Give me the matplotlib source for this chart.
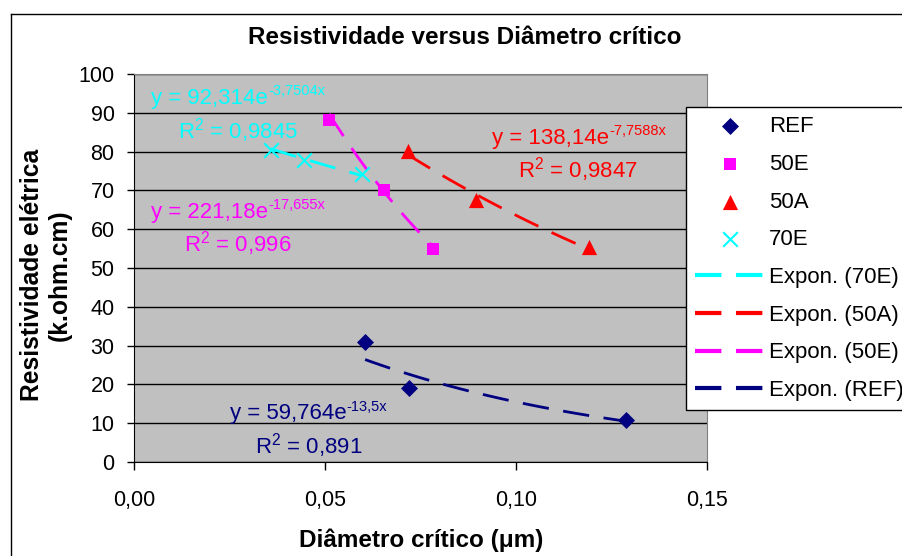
import numpy as np
import matplotlib
matplotlib.use("Agg")
import matplotlib.pyplot as plt
from matplotlib.lines import Line2D

plt.rcParams['font.family'] = ['Liberation Sans', 'DejaVu Sans']
plt.rcParams['mathtext.fontset'] = 'custom'
plt.rcParams['mathtext.rm'] = 'Liberation Sans'
plt.rcParams['mathtext.it'] = 'Liberation Sans'
plt.rcParams['lines.scale_dashes'] = False

# critical diameter (um) and electrical resistivity (k.ohm.cm) per mix
ref_x = [0.0605, 0.0721, 0.1287]
ref_y = [31.0, 19.0, 10.8]
e50_x = [0.0511, 0.0655, 0.0782]
e50_y = [88.2, 70.2, 54.8]
a50_x = [0.0716, 0.0895, 0.1192]
a50_y = [80.2, 67.6, 55.5]
e70_x = [0.0358, 0.0445, 0.0597]
e70_y = [80.5, 77.9, 74.3]

# exponential trendline coefficients y = a * exp(b * x), with R^2
fit_ref = (59.764, -13.5, 0.891)
fit_50e = (221.18, -17.655, 0.996)
fit_50a = (138.14, -7.7588, 0.9847)
fit_70e = (92.314, -3.7504, 0.9845)

fit_labels = {
    'ref': ('59,764', '-13,5x', '0,891'),
    '50e': ('221,18', '-17,655x', '0,996'),
    '50a': ('138,14', '-7,7588x', '0,9847'),
    '70e': ('92,314', '-3,7504x', '0,9845'),
}

NAVY = '#000080'
MAGENTA = '#FF00FF'
RED = '#FF0000'
CYAN = '#00FFFF'

fig = plt.figure(figsize=(9.02, 5.56), dpi=100)
ax = fig.add_axes([134 / 902, 1 - 462 / 556, 573 / 902, 388 / 556])
ax.set_facecolor('#C0C0C0')

DASH = (0, (19, 10.5))


def trend(xs, fit, color):
    a, b, _ = fit
    xx = np.linspace(min(xs), max(xs), 100)
    return ax.plot(xx, a * np.exp(b * xx), color=color, lw=2, ls=DASH)[0]


t70 = trend(e70_x, fit_70e, CYAN)
t50a = trend(a50_x, fit_50a, RED)
t50e = trend(e50_x, fit_50e, MAGENTA)
tref = trend(ref_x, fit_ref, NAVY)

s_ref = ax.scatter(ref_x, ref_y, marker='D', s=75, color=NAVY, zorder=5, linewidths=0)
s_50e = ax.scatter(e50_x, e50_y, marker='s', s=85, color=MAGENTA, zorder=5, linewidths=0)
s_50a = ax.scatter(a50_x, a50_y, marker='^', s=120, color=RED, zorder=5, linewidths=0)
s_70e = ax.scatter(e70_x, e70_y, marker='x', s=110, color=CYAN, zorder=5, linewidths=1.5)

ax.set_xlim(0, 0.15)
ax.set_ylim(0, 100)
ax.set_xticks([0, 0.05, 0.10, 0.15])
ax.set_xticklabels(['0,00', '0,05', '0,10', '0,15'])
ax.set_yticks(np.arange(0, 101, 10))
ax.yaxis.grid(True, color='black', lw=1)
ax.set_axisbelow(True)
ax.tick_params(axis='y', direction='out', length=5, width=1, pad=9, labelsize=15.5)
ax.tick_params(axis='x', direction='out', length=6, width=1, pad=14, labelsize=15.5)
for side in ['top', 'right']:
    ax.spines[side].set_color('#808080')
for side in ['left', 'bottom']:
    ax.spines[side].set_color('black')


def equation(x, y, key, color):
    coef, expo, r2 = fit_labels[key]
    main = ax.text(x, y, 'y = ' + coef + 'e', color=color, fontsize=16,
                   ha='left', va='center')
    ax.annotate(expo, xy=(1.0, 0.5), xycoords=main, color=color, fontsize=10.5,
                ha='left', va='bottom')
    return main


def rsq(x, y, key, color):
    r2 = fit_labels[key][2]
    ax.text(x, y, 'R$^{2}$ = ' + r2, color=color, fontsize=16, ha='left', va='center')


equation(0.0045, 93.8, '70e', CYAN)
rsq(0.0115, 85.3, '70e', CYAN)
equation(0.0045, 64.4, '50e', MAGENTA)
rsq(0.013, 56.4, '50e', MAGENTA)
equation(0.0937, 83.5, '50a', RED)
rsq(0.1005, 75.3, '50a', RED)
equation(0.0251, 12.4, 'ref', NAVY)
rsq(0.0317, 4.2, 'ref', NAVY)

handles = [s_ref, s_50e, s_50a, s_70e, t70, t50a, t50e, tref]
labels = ['REF', '50E', '50A', '70E', 'Expon. (70E)', 'Expon. (50A)',
          'Expon. (50E)', 'Expon. (REF)']
leg = fig.legend(handles, labels, loc='upper left',
                 bbox_to_anchor=(686 / 902, 1 - 107 / 556), bbox_transform=fig.transFigure,
                 borderaxespad=0, fontsize=16, frameon=True, fancybox=False,
                 edgecolor='black', framealpha=1, handlelength=3.1, handletextpad=0.2,
                 labelspacing=0.75, scatterpoints=1, borderpad=0.42)
leg.get_frame().set_linewidth(1)
for h in leg.legend_handles[4:]:
    h.set_linewidth(3)

fig.text(465 / 902, 1 - 37 / 556, 'Resistividade versus Diâmetro crítico',
         fontsize=17.5, fontweight='bold', ha='center', va='center')
fig.text(421 / 902, 1 - 540 / 556, 'Diâmetro crítico (μm)',
         fontsize=17.5, fontweight='bold', ha='center', va='center')
fig.text(46 / 902, 1 - 275 / 556, 'Resistividade elétrica\n(k.ohm.cm)',
         fontsize=17.7, fontweight='bold', ha='center', va='center',
         rotation=90, linespacing=1.2)

# chart area frame
fig.add_artist(Line2D([11 / 902, 11 / 902], [0, 1 - 14 / 556], color='black', lw=1,
                      transform=fig.transFigure))
fig.add_artist(Line2D([11 / 902, 1], [1 - 14 / 556, 1 - 14 / 556], color='black', lw=1,
                      transform=fig.transFigure))

fig.savefig('out.png', dpi=100)
